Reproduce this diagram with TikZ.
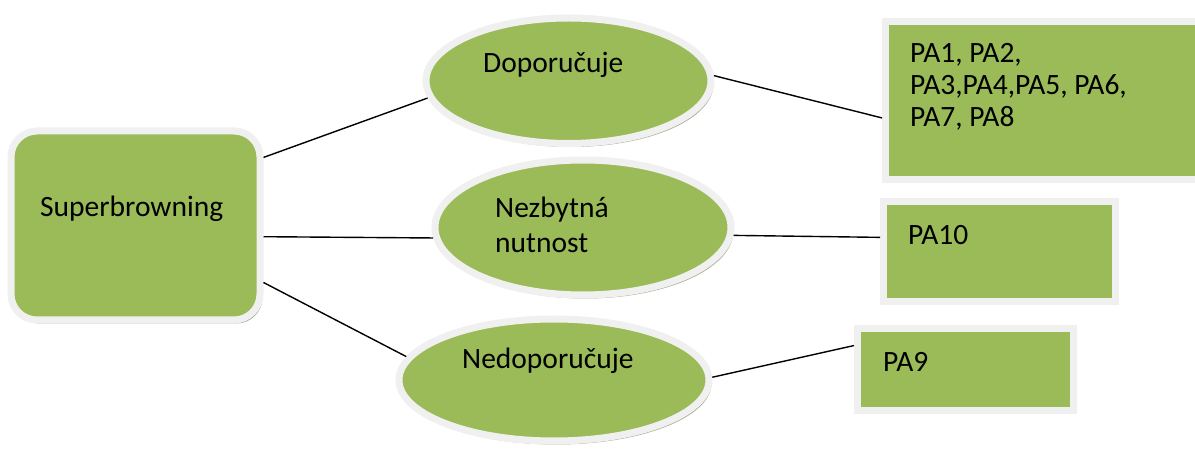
\documentclass[tikz,border=0pt]{standalone}
\usepackage{fontspec}
\setmainfont{Carlito}
\usetikzlibrary{shapes.geometric,shadows}
\definecolor{leaf}{HTML}{9BBB59}
\definecolor{rim}{HTML}{F0F0F0}
\definecolor{shade}{HTML}{A3AC8C}
\tikzset{
  bubble/.style={ellipse, fill=leaf, draw=rim, line width=7pt, inner sep=0pt,
    drop shadow={shadow xshift=2.5pt, shadow yshift=-3.5pt, fill=shade, opacity=1}},
  hub/.style={rectangle, rounded corners=26pt, fill=leaf, draw=rim, line width=7pt, inner sep=0pt,
    drop shadow={shadow xshift=2.5pt, shadow yshift=-3.5pt, fill=shade, opacity=1}},
  panel/.style={rectangle, fill=leaf, draw=rim, line width=7pt, inner sep=0pt},
  % base west of a multi-line caption sits on its last line
  caption/.style={anchor=base west, inner sep=0pt, font=\fontsize{29.5}{32}\selectfont, align=left},
  link/.style={draw=black, line width=1.4pt}
}
\begin{document}
\begin{tikzpicture}[x=1pt,y=-1pt]
\useasboundingbox (0,0) rectangle (1195,449);
\clip (0,0) rectangle (1195,449);
\fill[white] (0,0) rectangle (1195,449);

% central box
\node[hub, minimum width=249pt, minimum height=189pt] (sb) at (135.5,225.5) {};
\node[caption] (sbt) at (40,217) {Superbrowning};

% three categories
\node[bubble, minimum width=285pt, minimum height=125.5pt] (dop) at (568.5,80.75) {};
\node[caption] (dopt) at (483,73) {Doporučuje};

\node[bubble, minimum width=296pt, minimum height=135pt] (nez) at (583,227.5) {};
\node[caption, font=\fontsize{29.5}{35}\selectfont] (nezt) at (495,253) {Nezbytná\\nutnost};

\node[bubble, minimum width=310pt, minimum height=122pt] (ned) at (554,380) {};
\node[caption] (nedt) at (462,368) {Nedoporučuje};

% result panels
\node[panel, minimum width=320pt, minimum height=158.5pt] (pa1) at (1045.5,100.75) {};
\node[caption] (pa1t) at (910,127) {PA1, PA2,\\PA3,PA4,PA5, PA6,\\PA7, PA8};

\node[panel, minimum width=231.5pt, minimum height=100pt] (pa10) at (999.25,252) {};
\node[caption] (pa10t) at (908,245) {PA10};

\node[panel, minimum width=216pt, minimum height=81.5pt] (pa9) at (965.5,369.25) {};
\node[caption] (pa9t) at (883,371) {PA9};

% connectors
\draw[link] (sb.28.5) -- (dop.187.6);
\draw[link] (sb.-5.3) -- (nez.184.7);
\draw[link] (sb.-24.8) -- (ned.171.7);
\draw[link] (dop.2.3) -- (pa1.186.6);
\draw[link] (nez.-3.3) -- (pa10.173.5);
\draw[link] (ned.1) -- (pa9.168);
\end{tikzpicture}
\end{document}
